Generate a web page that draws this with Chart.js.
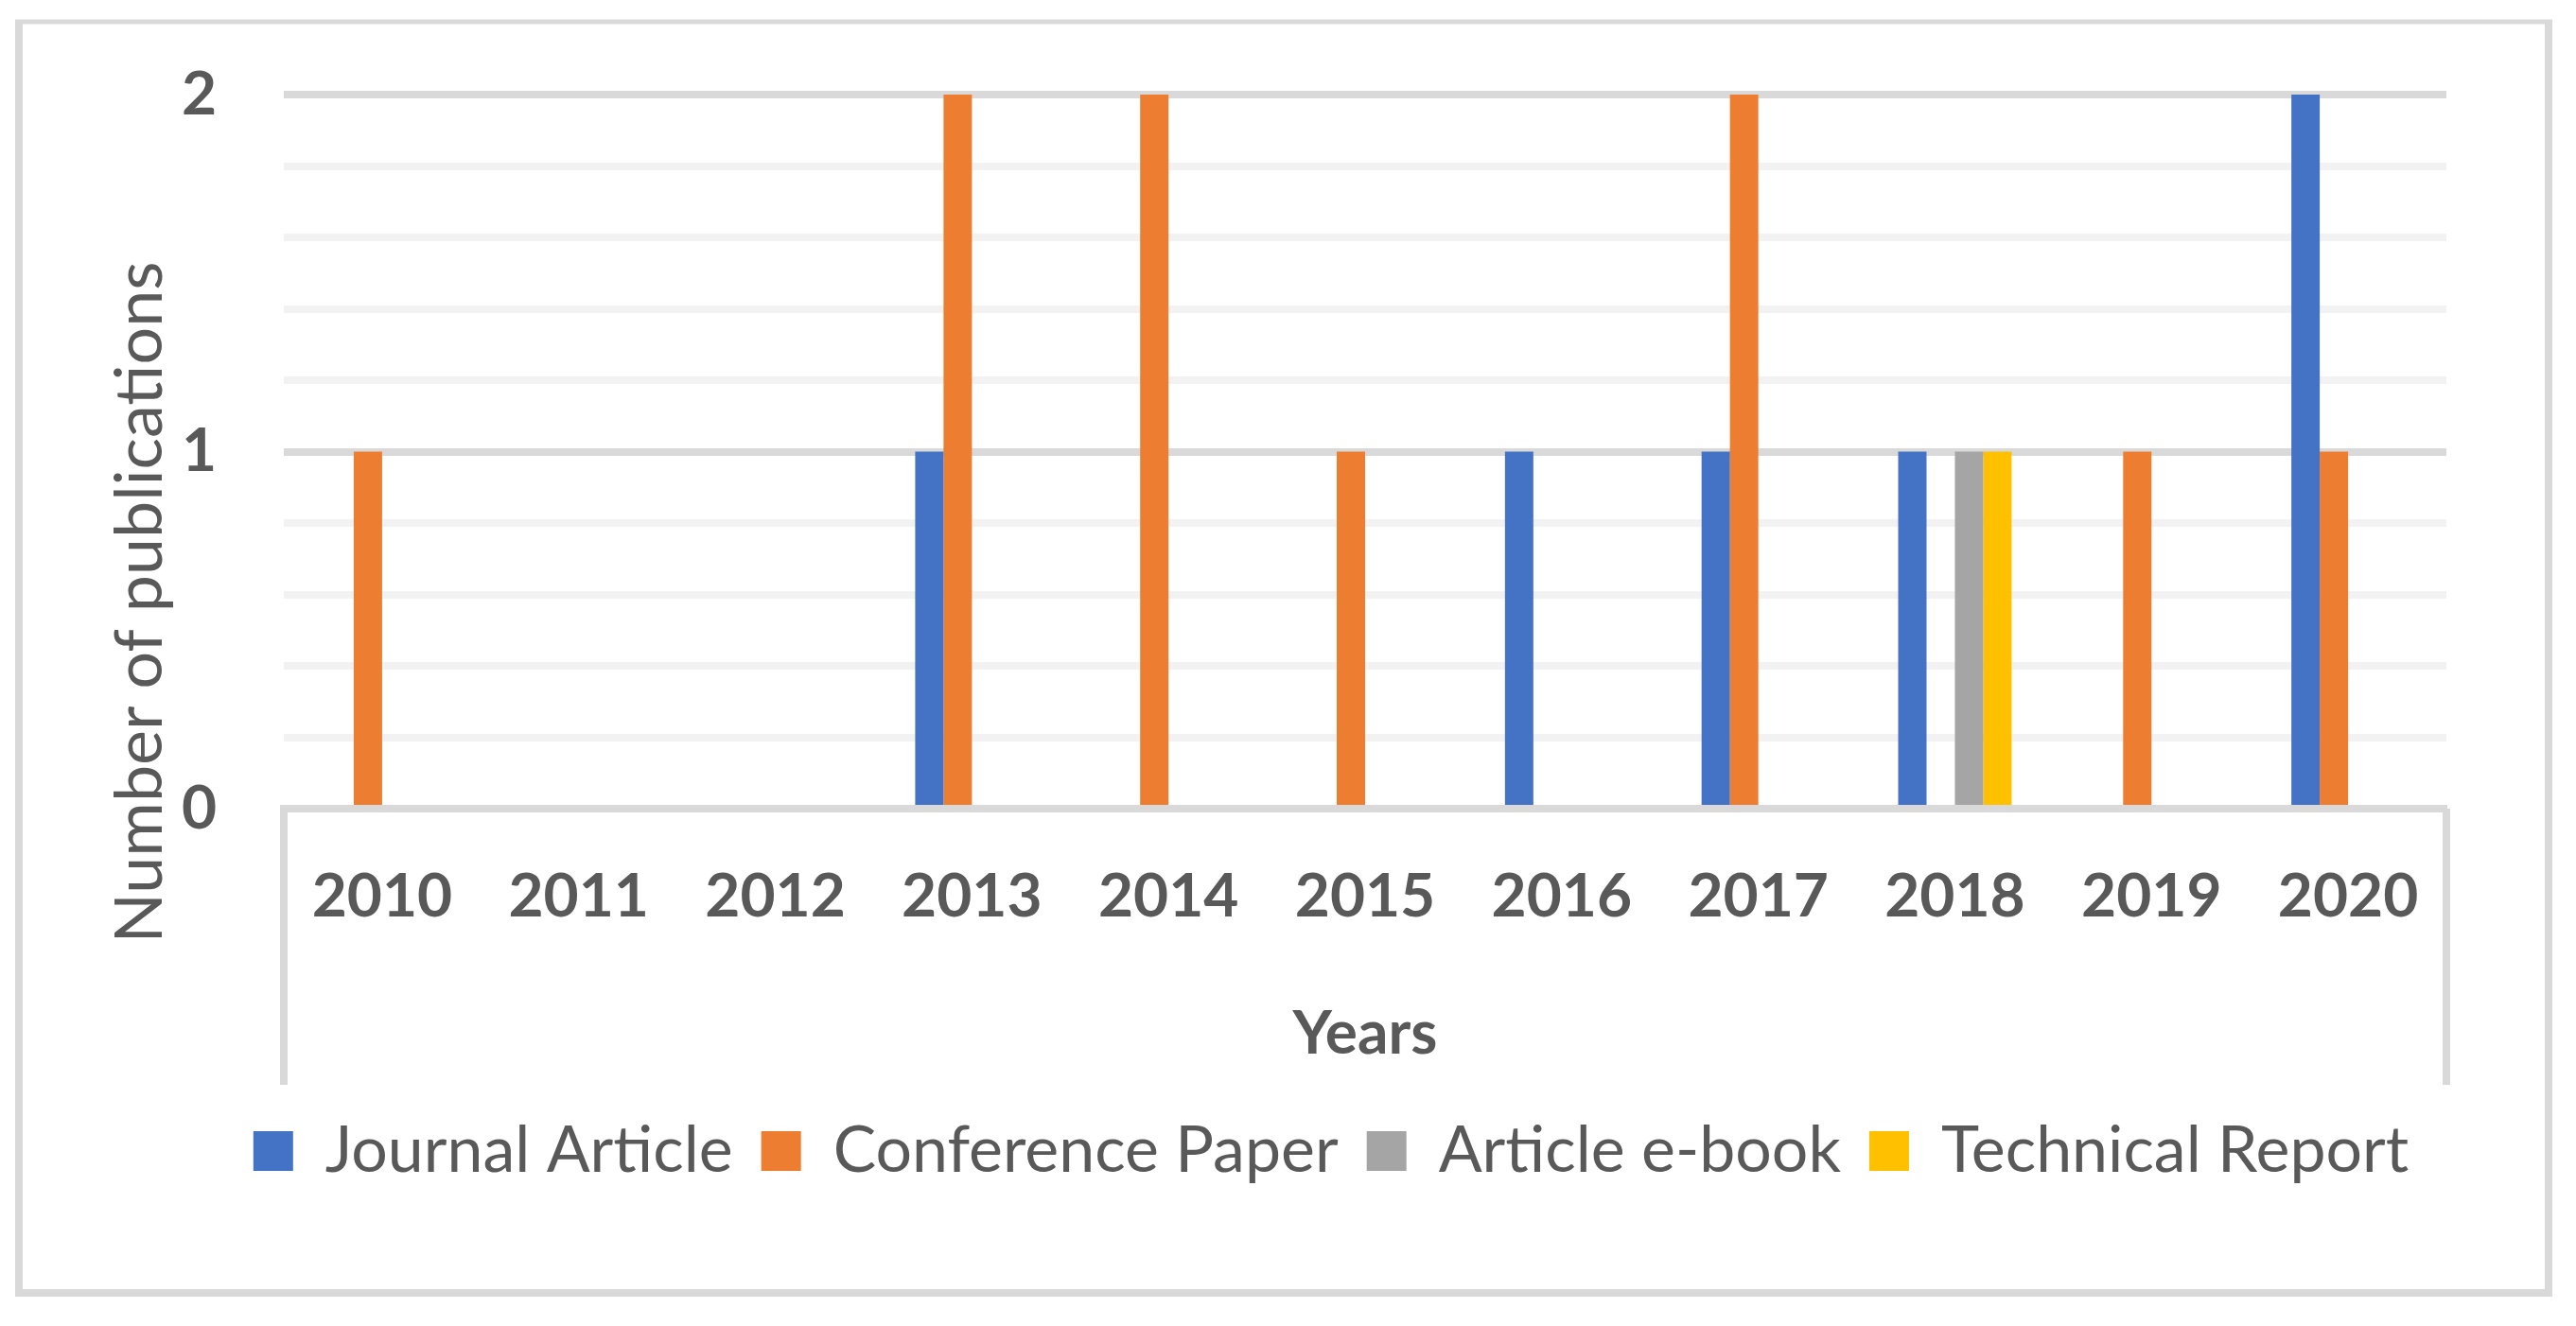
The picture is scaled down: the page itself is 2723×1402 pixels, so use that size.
<!DOCTYPE html>
<html>
<head>
<meta charset="utf-8">
<script src="https://cdn.jsdelivr.net/npm/chart.js@4.4.0/dist/chart.umd.min.js"></script>
<style>
  html, body { margin: 0; padding: 0; background: #ffffff; }
  canvas { display: block; }
</style>
</head>
<body>
<canvas id="pubChart" width="2723" height="1402"></canvas>
<script>
// data
const years = ['2010', '2011', '2012', '2013', '2014', '2015', '2016', '2017', '2018', '2019', '2020'];
const journalArticle = [0, 0, 0, 1, 0, 0, 1, 1, 1, 0, 2];
const conferencePaper = [1, 0, 0, 2, 2, 1, 0, 2, 0, 1, 1];
const articleEbook = [0, 0, 0, 0, 0, 0, 0, 0, 1, 0, 0];
const technicalReport = [0, 0, 0, 0, 0, 0, 0, 0, 1, 0, 0];
const yTicks = [0, 1, 2];

const textColor = '#595959';
const majorGrid = '#D9D9D9';
const minorGrid = '#F2F2F2';
const yTitle = 'Number of publications';

// outer frame, the category-axis box lines and the y title (Excel style)
const framePlugin = {
    id: 'frame',
    afterDraw(chart) {
        const ctx = chart.ctx;
        const area = chart.chartArea;
        ctx.save();
        ctx.strokeStyle = majorGrid;
        ctx.lineWidth = 8;
        ctx.beginPath();
        ctx.moveTo(20, 21);
        ctx.lineTo(20, 1371);
        ctx.moveTo(2694, 21);
        ctx.lineTo(2694, 1371);
        ctx.moveTo(16, 1367);
        ctx.lineTo(2698, 1367);
        ctx.moveTo(area.left, area.bottom);
        ctx.lineTo(area.left, area.bottom + 292);
        ctx.moveTo(area.right, area.bottom);
        ctx.lineTo(area.right, area.bottom + 292);
        ctx.stroke();
        ctx.lineWidth = 5;
        ctx.beginPath();
        ctx.moveTo(16, 23);
        ctx.lineTo(2698, 23);
        ctx.stroke();

        ctx.translate(area.left - 152, area.bottom - 218);
        ctx.rotate(-Math.PI / 2);
        ctx.fillStyle = textColor;
        ctx.font = '70px Lato';
        ctx.textAlign = 'center';
        ctx.textBaseline = 'middle';
        ctx.fillText(yTitle, 0, 0);
        ctx.restore();
    }
};

function isMajor(v) {
    return yTicks.some(t => Math.abs(t - v) < 1e-6);
}

const ctx = document.getElementById('pubChart').getContext('2d');
const chart = new Chart(ctx, {
    type: 'bar',
    data: {
        labels: years,
        datasets: [
            { label: 'Journal Article', data: journalArticle, backgroundColor: '#4472C4' },
            { label: 'Conference Paper', data: conferencePaper, backgroundColor: '#ED7D31' },
            { label: 'Article e-book', data: articleEbook, backgroundColor: '#A5A5A5' },
            { label: 'Technical Report', data: technicalReport, backgroundColor: '#FFC000' }
        ]
    },
    options: {
        responsive: false,
        devicePixelRatio: 1,
        animation: false,
        datasets: {
            bar: { categoryPercentage: 0.577, barPercentage: 1.0, borderWidth: 0 }
        },
        layout: {
            padding: { left: 91, right: 0, top: 100, bottom: 141 }
        },
        plugins: {
            tooltip: { enabled: false },
            legend: {
                position: 'bottom',
                labels: {
                    color: textColor,
                    font: { family: 'Lato', size: 68 },
                    boxWidth: 42,
                    boxHeight: 42,
                    padding: 30
                }
            }
        },
        scales: {
            x: {
                z: 1,
                grid: { display: false, drawTicks: false },
                border: { display: true, color: majorGrid, width: 8 },
                ticks: {
                    color: textColor,
                    font: { family: 'Lato', size: 64, weight: 'bold' },
                    padding: 55,
                    maxRotation: 0,
                    autoSkip: false
                },
                title: {
                    display: true,
                    text: 'Years',
                    color: textColor,
                    font: { family: 'Lato', size: 64, weight: 'bold' },
                    padding: { top: 0, bottom: 21 }
                },
                afterFit(scale) { scale.height = 298; }
            },
            y: {
                min: 0,
                max: 2,
                grid: {
                    drawTicks: false,
                    lineWidth: 8,
                    color: c => isMajor(c.tick.value) ? majorGrid : minorGrid
                },
                border: { display: false },
                ticks: {
                    stepSize: 0.2,
                    autoSkip: false,
                    color: textColor,
                    font: { family: 'Lato', size: 64, weight: 'bold' },
                    padding: 71,
                    callback: v => isMajor(v) ? String(Math.round(v)) : ''
                },
                afterFit(scale) {
                    scale.width = 209;
                    scale.paddingTop = 0;
                    scale.paddingBottom = 0;
                }
            },
            yRight: {
                position: 'right',
                display: true,
                grid: { display: false, drawTicks: false },
                border: { display: false },
                ticks: { display: false },
                afterFit(scale) { scale.width = 137; }
            }
        }
    },
    plugins: [framePlugin]
});
</script>
</body>
</html>
